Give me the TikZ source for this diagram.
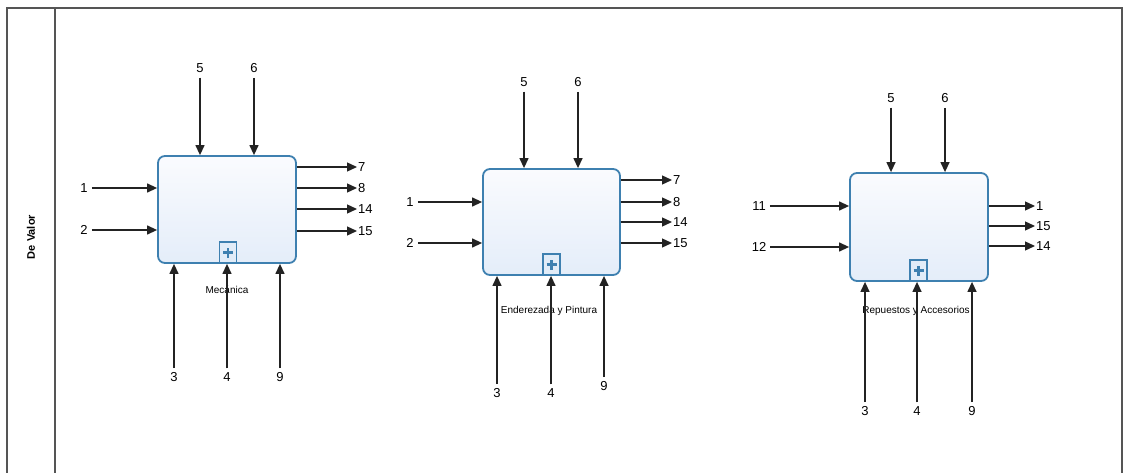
\documentclass[tikz,border=0pt]{standalone}
\usepackage{fontspec}
\setmainfont{Liberation Sans}
\usetikzlibrary{arrows.meta}
\definecolor{framegray}{RGB}{85,85,85}
\definecolor{boxblue}{RGB}{62,128,176}
\definecolor{boxtop}{RGB}{250,251,254}
\definecolor{boxbot}{RGB}{228,237,249}
\definecolor{plusfill}{RGB}{225,236,248}
\definecolor{linegray}{RGB}{35,35,35}
\tikzset{
  frameline/.style={draw=framegray, line width=1.5pt},
  activity/.style={draw=boxblue, line width=1.8pt, rounded corners=7pt, top color=boxtop, bottom color=boxbot, inner sep=0pt},
  plusbox/.style={draw=boxblue, line width=1.2pt, fill=plusfill, minimum width=17pt, minimum height=21pt, inner sep=0pt},
  num/.style={font=\fontsize{13}{14}\selectfont, inner sep=1pt},
  actlabel/.style={font=\fontsize{10}{11}\selectfont, inner sep=1pt},
  flow/.style={draw=linegray, line width=1.3pt, -{Triangle[length=10pt,width=9pt]}},
}
\newcommand{\plussign}[1]{\draw[boxblue, line width=2.6pt] ([yshift=-5pt]#1.center) -- ([yshift=5pt]#1.center) ([xshift=-5pt]#1.center) -- ([xshift=5pt]#1.center);}
\begin{document}
\begin{tikzpicture}[x=1pt,y=-1pt]
\useasboundingbox (0,0) rectangle (1129,473);
\fill[white] (0,0) rectangle (1129,473);
% frame
\draw[frameline] (7,473) -- (7,8) -- (1122,8) -- (1122,473);
\draw[frameline] (55,8) -- (55,473);
\node[rotate=90, font=\bfseries\fontsize{11}{12}\selectfont] (lane) at (31,237) {De Valor};

% ===== Box 1: Mecanica
\node[activity, minimum width=138pt, minimum height=107pt] (b1) at (227,209.5) {};
\node[plusbox] (p1) at (228,252.5) {};
\plussign{p1}
\node[actlabel] (l1) at (227,290) {Mecánica};
\foreach \n/\t/\y in {a/1/188, b/2/230} {
  \node[num] (b1in\n) at (84,\y) {\t};
  \draw[flow, shorten <=3pt] (b1in\n.east) -- (b1in\n -| b1.west);
}
\foreach \n/\t/\x in {a/5/200, b/6/254} {
  \node[num] (b1top\n) at (\x,68) {\t};
  \draw[flow, shorten <=4pt] (b1top\n.south) -- (b1top\n |- b1.north);
}
\foreach \n/\t/\x in {a/3/174, b/4/227, c/9/280} {
  \node[num] (b1bot\n) at (\x,377) {\t};
  \draw[flow, shorten <=3pt] (b1bot\n.north) -- (b1bot\n |- b1.south);
}
\foreach \n/\t/\y in {a/7/167, b/8/188, c/14/209, d/15/231} {
  \node[num, anchor=west] (b1out\n) at (357,\y) {\t};
  \draw[flow] (b1out\n -| b1.east) -- (b1out\n.west);
}

% ===== Box 2: Enderezada y Pintura
\node[activity, minimum width=137pt, minimum height=106pt] (b2) at (551.5,222) {};
\node[plusbox] (p2) at (551.5,264.5) {};
\plussign{p2}
\node[actlabel] (l2) at (549,311) {Enderezada y Pintura};
\foreach \n/\t/\y in {a/1/202, b/2/243} {
  \node[num] (b2in\n) at (410,\y) {\t};
  \draw[flow, shorten <=3pt] (b2in\n.east) -- (b2in\n -| b2.west);
}
\foreach \n/\t/\x in {a/5/524, b/6/578} {
  \node[num] (b2top\n) at (\x,82) {\t};
  \draw[flow, shorten <=4pt] (b2top\n.south) -- (b2top\n |- b2.north);
}
\foreach \n/\t/\x/\y in {a/3/497/393, b/4/551/393, c/9/604/386} {
  \node[num] (b2bot\n) at (\x,\y) {\t};
  \draw[flow, shorten <=3pt] (b2bot\n.north) -- (b2bot\n |- b2.south);
}
\foreach \n/\t/\y in {a/7/180, b/8/202, c/14/222, d/15/243} {
  \node[num, anchor=west] (b2out\n) at (672,\y) {\t};
  \draw[flow] (b2out\n -| b2.east) -- (b2out\n.west);
}

% ===== Box 3: Repuestos y Accesorios
\node[activity, minimum width=138pt, minimum height=108pt] (b3) at (919,227) {};
\node[plusbox] (p3) at (918.5,270.5) {};
\plussign{p3}
\node[actlabel] (l3) at (916,311) {Repuestos y Accesorios};
\foreach \n/\t/\y in {a/11/206, b/12/247} {
  \node[num] (b3in\n) at (759,\y) {\t};
  \draw[flow, shorten <=3pt] (b3in\n.east) -- (b3in\n -| b3.west);
}
\foreach \n/\t/\x in {a/5/891, b/6/945} {
  \node[num] (b3top\n) at (\x,98) {\t};
  \draw[flow, shorten <=4pt] (b3top\n.south) -- (b3top\n |- b3.north);
}
\foreach \n/\t/\x in {a/3/865, b/4/917, c/9/972} {
  \node[num] (b3bot\n) at (\x,411) {\t};
  \draw[flow, shorten <=3pt] (b3bot\n.north) -- (b3bot\n |- b3.south);
}
\foreach \n/\t/\y in {a/1/206, b/15/226, c/14/246} {
  \node[num, anchor=west] (b3out\n) at (1035,\y) {\t};
  \draw[flow] (b3out\n -| b3.east) -- (b3out\n.west);
}
\end{tikzpicture}
\end{document}
